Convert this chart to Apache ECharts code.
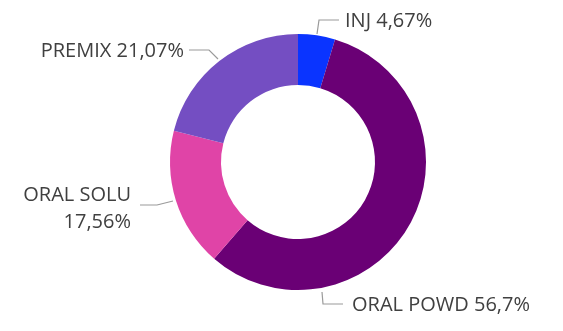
<!DOCTYPE html>
<html>
<head>
<meta charset="utf-8">
<script src="https://cdn.jsdelivr.net/npm/echarts@6/dist/echarts.min.js"></script>
<style>
  html, body { margin: 0; padding: 0; background: #fff; }
  #chart { width: 563px; height: 331px; }
</style>
</head>
<body>
<div id="chart"></div>
<script>
// Share of sales by product form (percent)
const categories = ['INJ', 'ORAL POWD', 'ORAL SOLU', 'PREMIX'];
const shares = [4.67, 56.7, 17.56, 21.07];
const colors = ['#0a34ff', '#6a0075', '#e044a7', '#744ec2'];

// Where each callout text sits and how its leader line is drawn
const labelPlacement = [
  { x: 345, y: 21, align: 'left',  line: [[317, 34], [319, 20], [339, 20]] },
  { x: 352, y: 305, align: 'left', line: [[322, 292], [323, 304], [343, 304]] },
  { x: 131, y: 209, align: 'right', line: [[173, 201], [157, 205], [140, 205]] },
  { x: 184, y: 51, align: 'right', line: [[218, 59], [209, 50], [189, 50]] }
];

function fmtPct(v) {
  return String(Number(v.toFixed(2))).replace('.', ',') + '%';
}

const chart = echarts.init(document.getElementById('chart'), null, { renderer: 'canvas' });

chart.setOption({
  animation: false,
  backgroundColor: '#ffffff',
  series: [{
    type: 'pie',
    center: [298, 162],
    radius: [77, 128],
    startAngle: 90,
    clockwise: true,
    avoidLabelOverlap: false,
    itemStyle: { borderWidth: 0 },
    label: {
      show: true,
      position: 'outside',
      color: '#404040',
      fontFamily: 'Open Sans',
      fontSize: 20,
      lineHeight: 27,
      formatter: function (p) {
        if (p.name === 'ORAL SOLU') {
          return p.name + '\n' + fmtPct(p.value);
        }
        return p.name + ' ' + fmtPct(p.value);
      }
    },
    labelLine: {
      show: true,
      length: 10,
      length2: 18,
      lineStyle: { color: '#9a9a9a', width: 1.2 }
    },
    labelLayout: function (params) {
      const p = labelPlacement[params.dataIndex];
      return {
        x: p.x,
        y: p.y,
        align: p.align,
        verticalAlign: 'middle',
        labelLinePoints: p.line
      };
    },
    data: categories.map((c, i) => ({
      name: c,
      value: shares[i],
      itemStyle: { color: colors[i] },
      label: c === 'ORAL SOLU' ? { align: 'right' } : undefined
    }))
  }]
});
</script>
</body>
</html>
